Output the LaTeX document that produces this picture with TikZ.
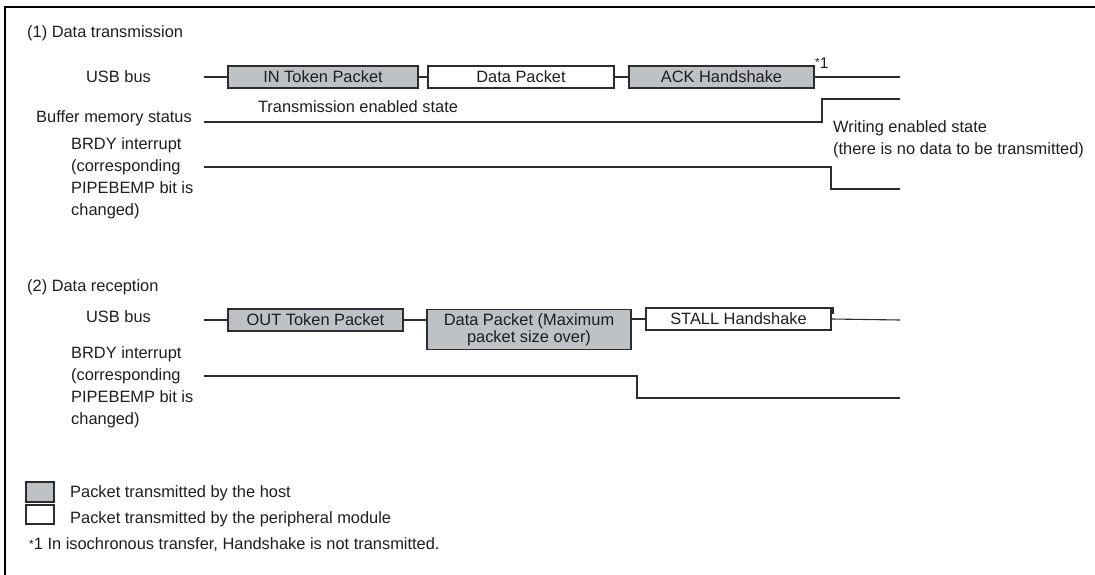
\documentclass[tikz,border=0pt]{standalone}
\usepackage{fontspec}
\setmainfont{Liberation Sans}
\definecolor{hostgray}{RGB}{190,193,198}
\definecolor{linec}{RGB}{45,45,45}
\definecolor{txtc}{RGB}{30,30,30}
\newcommand\dfont{\fontsize{16.4}{22}\selectfont}
\newcommand\boxfont{\fontsize{16.4}{17}\selectfont}
\newcommand\smallast{\raisebox{1.5pt}{\fontsize{12}{12}\selectfont *}}
\tikzset{
  pkt/.style={draw=linec, line width=1.2pt, minimum height=22pt, inner sep=0pt, font=\boxfont, text=txtc, align=center},
  hostpkt/.style={pkt, fill=hostgray},
  periphpkt/.style={pkt, fill=white},
  sig/.style={draw=linec, line width=1.1pt},
  lbl/.style={font=\dfont, text=txtc, inner sep=0pt},
  leftlbl/.style={lbl, anchor=west, align=left},
}
\begin{document}
\begin{tikzpicture}[x=1pt,y=-1pt]
\useasboundingbox (0,0) rectangle (1095,575);
% frame
\draw[line width=2.5pt, black] (1095,7) -- (5,7) -- (5,575);

% ---------- (1) Data transmission
\node[leftlbl] (t1) at (27,33) {(1) Data transmission};
\node[lbl] (usb1) at (118.5,77) {USB bus};
\node[lbl, anchor=east] (buf) at (192,118) {Buffer memory status};
\node[leftlbl] (brdy1) at (71,178) {BRDY interrupt\\(corresponding\\PIPEBEMP bit is\\changed)};

\node[hostpkt, minimum width=190pt] (in) at (323,77) {IN Token Packet};
\node[periphpkt, minimum width=186pt] (dp1) at (521,77) {Data Packet};
\node[hostpkt, minimum width=185pt] (ack) at (721.5,77) {ACK Handshake};
\node[lbl, anchor=west, font=\fontsize{15.5}{15.5}\selectfont] (n1) at (815,63) {\smallast1};

\coordinate (u1s) at (204,77);
\coordinate (u1e) at (900,77);
\draw[sig] (u1s) -- (in.west);
\draw[sig] (in.east) -- (dp1.west);
\draw[sig] (dp1.east) -- (ack.west);
\draw[sig] (ack.east) -- (u1e);

\coordinate (b1s) at (204,122);
\coordinate (b1m) at (822,122);
\coordinate (b1e) at (900,99);
\draw[sig] (b1s) -- (b1m) |- (b1e);
\node[lbl] (tes) at (358,107) {Transmission enabled state};
\node[leftlbl] (wes) at (833,139) {Writing enabled state\\(there is no data to be transmitted)};

\coordinate (r1s) at (204,167);
\coordinate (r1m) at (831,167);
\coordinate (r1e) at (900,189);
\draw[sig] (r1s) -- (r1m) |- (r1e);

% ---------- (2) Data reception
\node[leftlbl] (t2) at (27,287) {(2) Data reception};
\node[lbl] (usb2) at (118.5,317) {USB bus};
\node[leftlbl] (brdy2) at (71,387) {BRDY interrupt\\(corresponding\\PIPEBEMP bit is\\changed)};

\node[hostpkt, minimum width=175pt] (out) at (315.5,320) {OUT Token Packet};
\node[hostpkt, minimum width=204pt, minimum height=40pt, anchor=north] (dp2) at (529,309) {Data Packet (Maximum\\packet size over)};
\node[periphpkt, minimum width=185pt] (stall) at (738.5,319) {STALL Handshake};
\draw[linec, line width=1.8pt] ([xshift=1.5pt]stall.north east) -- ++(0,7);

\coordinate (u2s) at (204,320);
\coordinate (u2e) at (900,320);
\draw[sig] (u2s) -- (out.west);
\draw[sig] (out.east) -- (out.east -| dp2.west);
\draw[sig] (dp2.east |- stall.west) -- (stall.west);
\draw[sig] (stall.east) -- (u2e);

\coordinate (r2s) at (204,376);
\coordinate (r2m) at (637,376);
\coordinate (r2e) at (900,398);
\draw[sig] (r2s) -- (r2m) |- (r2e);

% ---------- legend
\node[hostpkt, minimum width=28pt, minimum height=20pt] (lg1) at (40,492) {};
\node[periphpkt, minimum width=28pt, minimum height=19pt] (lg2) at (40,514.5) {};
\node[leftlbl] (lt1) at (70,493) {Packet transmitted by the host};
\node[leftlbl] (lt2) at (70,519) {Packet transmitted by the peripheral module};
\node[leftlbl] (foot) at (29,545) {\smallast1 In isochronous transfer, Handshake is not transmitted.};
\end{tikzpicture}
\end{document}
